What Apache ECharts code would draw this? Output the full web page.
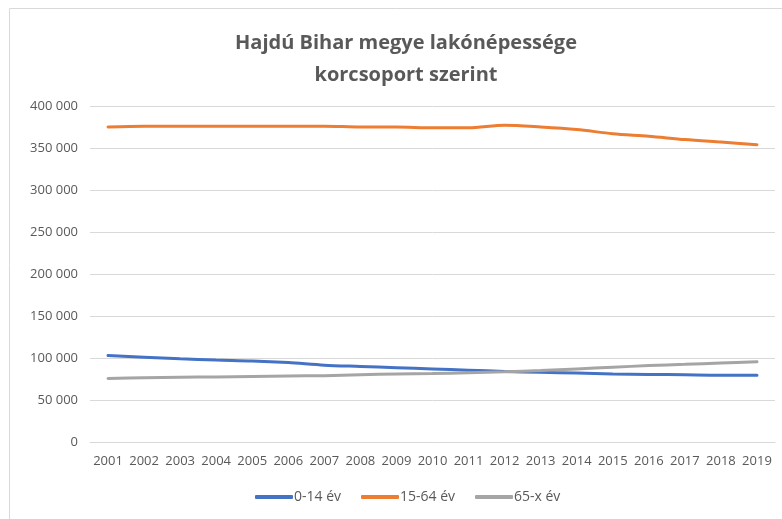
<!DOCTYPE html>
<html>
<head>
<meta charset="utf-8">
<script src="https://cdn.jsdelivr.net/npm/echarts@6/dist/echarts.min.js"></script>
<style>
  html, body { margin: 0; padding: 0; background: #fff; }
  #main { width: 782px; height: 519px; }
</style>
</head>
<body>
<div id="main"></div>
<script>
// évek
var years = ['2001', '2002', '2003', '2004', '2005', '2006', '2007', '2008', '2009', '2010',
  '2011', '2012', '2013', '2014', '2015', '2016', '2017', '2018', '2019'];

// korcsoportok (fő)
var age0_14 = [103000, 101000, 99000, 97500, 96500, 94500, 91500, 90000, 88500, 87000,
  85500, 84000, 83000, 82000, 81000, 80500, 80000, 79500, 79500];
var age15_64 = [375000, 376000, 376000, 376000, 376000, 376000, 376000, 375000, 375000, 374000,
  374000, 377000, 375000, 372000, 367000, 364000, 360000, 357000, 354000];
var age65 = [75500, 76500, 77000, 77500, 78000, 78500, 79000, 80000, 81000, 81500,
  82500, 83500, 85000, 87000, 89000, 91000, 92500, 94000, 95500];

var seriesNames = ['0-14 év', '15-64 év', '65-x év'];
var colors = ['#4472C4', '#ED7D31', '#A5A5A5'];

var myChart = echarts.init(document.getElementById('main'));

function fmt(v) {
  return String(v).replace(/\B(?=(\d{3})+(?!\d))/g, ' ');
}

function line(name, data, color) {
  return {
    name: name,
    type: 'line',
    data: data,
    smooth: 0.3,
    symbol: 'none',
    lineStyle: { width: 3, color: color, cap: 'round' },
    itemStyle: { color: color }
  };
}

var option = {
  animation: false,
  textStyle: { fontFamily: 'Open Sans' },
  title: {
    text: 'Hajdú Bihar megye lakónépessége\nkorcsoport szerint',
    left: 401,
    top: 22,
    textAlign: 'center',
    textStyle: {
      fontFamily: 'Open Sans',
      fontSize: 20,
      fontWeight: 'bold',
      color: '#595959',
      lineHeight: 32
    }
  },
  graphic: [{
    type: 'rect',
    shape: { x: 9.5, y: 8.5, width: 800, height: 540 },
    style: { fill: 'none', stroke: '#D9D9D9', lineWidth: 1 },
    silent: true
  }],
  legend: {
    data: seriesNames,
    bottom: 10,
    left: 250,
    itemWidth: 38,
    itemHeight: 4,
    itemGap: 20,
    icon: 'roundRect',
    textStyle: { fontSize: 14, color: '#595959', padding: [0, 0, 0, -4] }
  },
  grid: { left: 90, right: 7, top: 106, bottom: 77 },
  xAxis: {
    type: 'category',
    data: years,
    boundaryGap: true,
    axisLine: { lineStyle: { color: '#D9D9D9' } },
    axisTick: { show: false },
    axisLabel: { color: '#595959', fontSize: 13, margin: 13, interval: 0 }
  },
  yAxis: {
    type: 'value',
    min: 0,
    max: 400000,
    interval: 50000,
    axisLine: { show: false },
    axisTick: { show: false },
    splitLine: { lineStyle: { color: '#D9D9D9' } },
    axisLabel: { color: '#595959', fontSize: 13, margin: 12, formatter: fmt }
  },
  series: [
    line(seriesNames[0], age0_14, colors[0]),
    line(seriesNames[1], age15_64, colors[1]),
    line(seriesNames[2], age65, colors[2])
  ]
};

myChart.setOption(option);
</script>
</body>
</html>
